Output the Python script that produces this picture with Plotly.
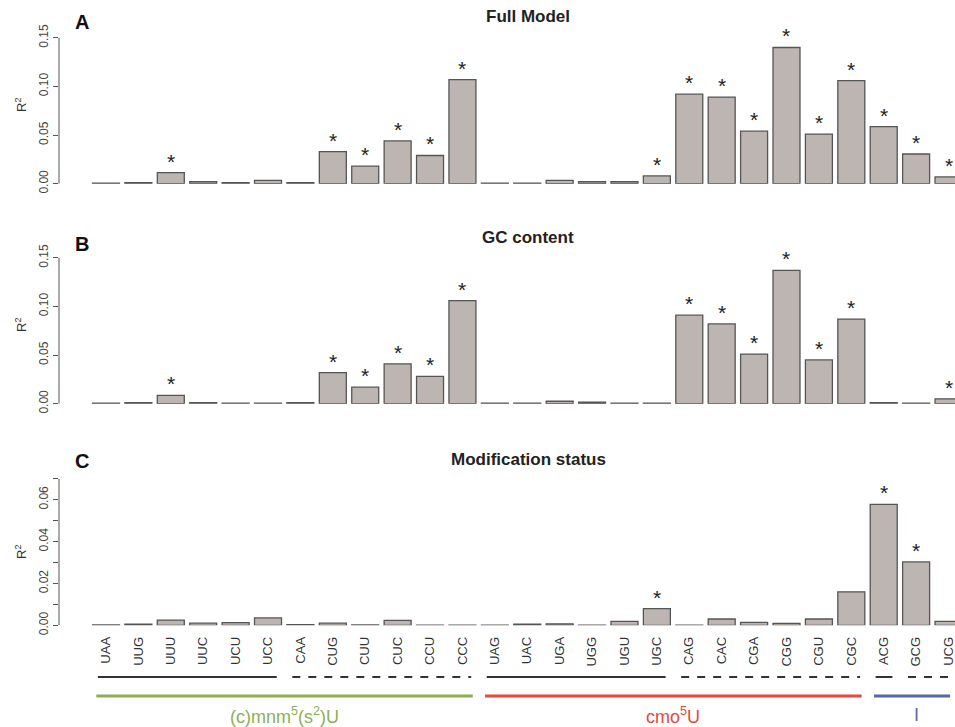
import plotly.graph_objects as go

# ---------------- data ----------------
codons = ["UAA", "UUG", "UUU", "UUC", "UCU", "UCC", "CAA", "CUG", "CUU", "CUC", "CCU", "CCC",
          "UAG", "UAC", "UGA", "UGG", "UGU", "UGC", "CAG", "CAC", "CGA", "CGG", "CGU", "CGC",
          "ACG", "GCG", "UCG"]

full_model = [0.0005, 0.001, 0.0113, 0.002, 0.001, 0.0035, 0.001, 0.033, 0.018, 0.044, 0.029, 0.107,
              0.0005, 0.0005, 0.0035, 0.002, 0.002, 0.008, 0.092, 0.089, 0.054, 0.140, 0.051, 0.106,
              0.0586, 0.0305, 0.007]
full_sig = [0, 0, 1, 0, 0, 0, 0, 1, 1, 1, 1, 1,
            0, 0, 0, 0, 0, 1, 1, 1, 1, 1, 1, 1,
            1, 1, 1]

gc_content = [0.0005, 0.001, 0.0085, 0.001, 0.0005, 0.0005, 0.001, 0.032, 0.017, 0.041, 0.028, 0.106,
              0.0005, 0.0005, 0.0025, 0.0015, 0.0005, 0.0005, 0.091, 0.082, 0.051, 0.137, 0.045, 0.087,
              0.001, 0.0005, 0.005]
gc_sig = [0, 0, 1, 0, 0, 0, 0, 1, 1, 1, 1, 1,
          0, 0, 0, 0, 0, 0, 1, 1, 1, 1, 1, 1,
          0, 0, 1]

mod_status = [0.0002, 0.0005, 0.0025, 0.001, 0.0013, 0.0035, 0.0003, 0.001, 0.0002, 0.0024, 0.0001, 0.0001,
              0.0001, 0.0005, 0.0007, 0.0001, 0.0019, 0.008, 0.0001, 0.003, 0.0014, 0.0009, 0.003, 0.016,
              0.0578, 0.0303, 0.0019]
mod_sig = [0, 0, 0, 0, 0, 0, 0, 0, 0, 0, 0, 0,
           0, 0, 0, 0, 0, 1, 0, 0, 0, 0, 0, 0,
           1, 1, 0]

panel_titles = ["Full Model", "GC content", "Modification status"]
panel_letters = ["A", "B", "C"]

ticks_ab = [0.0, 0.05, 0.10, 0.15]
ticklabels_ab = ["0.00", "0.05", "0.10", "0.15"]
ticks_c = [0.0, 0.02, 0.04, 0.06]
ticklabels_c = ["0.00", "0.02", "0.04", "0.06"]
minor_step_c = 0.01

# wobble-pairing groups (first codon, last codon, line style)
wobble_groups = [("UAA", "UCC", "solid"), ("CAA", "CCC", "dash"),
                 ("UAG", "UGC", "solid"), ("CAG", "CGC", "dash"),
                 ("ACG", "ACG", "solid"), ("GCG", "UCG", "dash")]
# modification groups (label, first codon, last codon, colour)
mod_groups = [("(c)mnm<sup>5</sup>(s<sup>2</sup>)U", "UAA", "CCC", "#8caf55"),
              ("cmo<sup>5</sup>U", "UAG", "CGC", "#e8473a"),
              ("I", "ACG", "UCG", "#5667a5")]

# ---------------- layout geometry ----------------
W, H = 955, 727
FONT = "Liberation Sans, Arial, sans-serif"
BAR_FILL = "#bdb5b2"
BAR_LINE = "#555555"
AXIS_COL = "#555555"


def py(pix):
    return 1 - pix / H


def px(pix):
    return pix / W


# (bottom pixel, top pixel, range top, axis top)
panels = [
    (183.7, 25.0, (183.7 - 25.0) / 973.0, 0.15),
    (403.7, 245.0, (403.7 - 245.0) / 973.0, 0.15),
    (625.3, 465.0, (625.3 - 465.0) / 2093.0, 0.07),
]
series = [full_model, gc_content, mod_status]
sigs = [full_sig, gc_sig, mod_sig]
title_y = [17, 237, 459]
letter_y = [21.7, 243.7, 460.7]
ylab_y = [105, 325, 552]

fig = go.Figure()
x_range = [-1.45, 26.2]
x_dom = [px(59), 1.0]

annotations = []
shapes = []
for i, (vals, sig) in enumerate(zip(series, sigs)):
    n = i + 1
    xa = "x" if n == 1 else f"x{n}"
    ya = "y" if n == 1 else f"y{n}"
    fig.add_trace(go.Bar(x=codons, y=vals, xaxis=xa, yaxis=ya,
                         marker=dict(color=BAR_FILL, line=dict(color=BAR_LINE, width=1.3)),
                         showlegend=False, hoverinfo="x+y"))
    bot, top, rtop, atop = panels[i]
    xkey = "xaxis" if n == 1 else f"xaxis{n}"
    ykey = "yaxis" if n == 1 else f"yaxis{n}"
    fig.layout[xkey] = dict(domain=x_dom, range=x_range, anchor=ya,
                            showgrid=False, zeroline=False, showline=False,
                            showticklabels=(n == 3), ticks="",
                            tickangle=-90, ticklabelstandoff=8,
                            tickfont=dict(family=FONT, size=13, color="#333333"),
                            type="category", categoryorder="array", categoryarray=codons,
                            automargin=False)
    yaxis = dict(domain=[py(bot), py(top)], range=[0, rtop], anchor=xa,
                 showgrid=False, zeroline=False, showline=False,
                 ticks="outside", ticklen=5, tickwidth=1, tickcolor=AXIS_COL,
                 tickangle=-90, automargin=False,
                 tickfont=dict(family=FONT, size=12, color="#444444"))
    if n < 3:
        yaxis.update(tickvals=ticks_ab, ticktext=ticklabels_ab)
    else:
        yaxis.update(tickvals=ticks_c, ticktext=ticklabels_c,
                     minor=dict(dtick=minor_step_c, tick0=0, ticks="outside", ticklen=5,
                                tickwidth=1, tickcolor=AXIS_COL, showgrid=False))
    fig.layout[ykey] = yaxis
    # y axis line from 0 to top tick
    shapes.append(dict(type="line", xref=f"{xa} domain", yref=ya, x0=0, x1=0, y0=0, y1=atop,
                       line=dict(color=AXIS_COL, width=1)))
    # significance stars
    for c, v, s in zip(codons, vals, sig):
        if s:
            annotations.append(dict(x=c, y=v, xref=xa, yref=ya, text="*", showarrow=False,
                                    xanchor="center", yanchor="bottom", yshift=-2,
                                    font=dict(family=FONT, size=21, color="#222222")))
    # panel title + letter + y label
    annotations.append(dict(x=px(528), y=py(title_y[i]), xref="paper", yref="paper",
                            xanchor="center", yanchor="middle",
                            text=f"<b>{panel_titles[i]}</b>", showarrow=False,
                            font=dict(family=FONT, size=17, color="#222222")))
    annotations.append(dict(x=px(82), y=py(letter_y[i]), xref="paper", yref="paper",
                            xanchor="center", yanchor="middle",
                            text=f"<b>{panel_letters[i]}</b>", showarrow=False,
                            font=dict(family=FONT, size=20, color="#111111")))
    annotations.append(dict(x=px(21), y=py(ylab_y[i]), xref="paper", yref="paper",
                            xanchor="center", yanchor="middle",
                            text="R<sup>2</sup>", showarrow=False, textangle=-90,
                            font=dict(family=FONT, size=13, color="#333333")))

# wobble group lines
idx = {c: k for k, c in enumerate(codons)}
for first, last, style in wobble_groups:
    shapes.append(dict(type="line", xref="x3", yref="paper",
                       x0=idx[first] - 0.25, x1=min(idx[last] + 0.27, 26.15),
                       y0=py(677), y1=py(677),
                       line=dict(color="#333333", width=2,
                                 dash="solid" if style == "solid" else "8px,8px")))
# modification group lines + labels
for label, first, last, col in mod_groups:
    shapes.append(dict(type="line", xref="x3", yref="paper",
                       x0=idx[first] - 0.3, x1=min(idx[last] + 0.32, 26.05),
                       y0=py(696), y1=py(696),
                       line=dict(color=col, width=3)))
    annotations.append(dict(x=(idx[first] + idx[last]) / 2, y=py(715), xref="x3", yref="paper",
                            xanchor="center", yanchor="middle",
                            text=label, showarrow=False,
                            font=dict(family=FONT, size=18, color=col)))

fig.update_layout(width=W, height=H, margin=dict(l=0, r=0, t=0, b=0, autoexpand=False),
                  paper_bgcolor="white", plot_bgcolor="white",
                  bargap=0.167, shapes=shapes, annotations=annotations,
                  font=dict(family=FONT))

# remove the browser's default 8px body margin so the figure starts at the window corner
fig.write_html("out.html", config={"displayModeBar": False},
               post_script="document.body.style.margin='0';document.body.style.overflow='hidden';")
